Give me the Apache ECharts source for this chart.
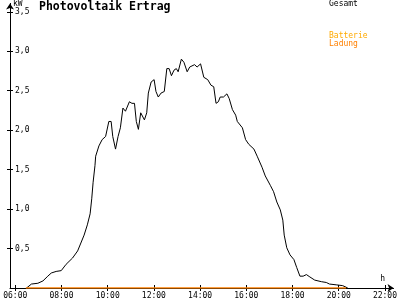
<!DOCTYPE html>
<html><head><meta charset="utf-8">
<script src="https://cdn.jsdelivr.net/npm/echarts@6/dist/echarts.min.js"></script>
<style>html,body{margin:0;padding:0;background:#fff}#c{width:400px;height:300px}</style>
</head><body><div id="c"></div>
<script>
const gesamtHours = [6.49,6.70,6.98,7.20,7.41,7.56,7.77,7.99,8.20,8.48,
  8.70,8.84,8.98,9.12,9.24,9.31,9.37,9.45,9.48,9.62,
  9.76,9.91,10.05,10.15,10.22,10.34,10.45,10.55,10.66,10.77,
  10.94,11.05,11.16,11.24,11.33,11.43,11.51,11.59,11.69,11.76,
  11.88,12.01,12.09,12.19,12.31,12.45,12.56,12.66,12.76,12.87,
  12.97,13.05,13.19,13.30,13.44,13.55,13.76,13.87,14.02,14.16,
  14.33,14.47,14.59,14.69,14.79,14.87,15.01,15.16,15.26,15.40,
  15.54,15.61,15.83,15.97,16.11,16.33,16.47,16.68,16.82,17.04,
  17.18,17.32,17.47,17.58,17.64,17.75,17.89,18.06,18.18,18.32,
  18.46,18.60,18.75,18.96,19.25,19.46,19.60,19.89,20.17,20.39];
const gesamtKW = [0,0.05,0.06,0.09,0.15,0.19,0.21,0.22,0.30,0.38,
  0.47,0.57,0.67,0.80,0.94,1.13,1.34,1.55,1.67,1.80,
  1.88,1.92,2.11,2.11,1.92,1.76,1.92,2.03,2.28,2.24,
  2.36,2.34,2.34,2.11,2.01,2.22,2.24,2.13,2.22,2.47,
  2.61,2.64,2.49,2.42,2.47,2.49,2.78,2.78,2.69,2.76,
  2.78,2.74,2.90,2.86,2.74,2.80,2.83,2.80,2.84,2.67,
  2.64,2.57,2.55,2.34,2.36,2.42,2.42,2.46,2.40,2.26,
  2.19,2.11,2.03,1.88,1.82,1.76,1.67,1.53,1.42,1.30,
  1.22,1.09,0.99,0.86,0.67,0.51,0.42,0.36,0.26,0.15,
  0.15,0.17,0.14,0.10,0.08,0.07,0.05,0.04,0.03,0];
const ladungHours = [6.46, 20.32];
const ladungKW = [0, 0];
const xTickValues = [6,8,10,12,14,16,18,20,22];
const xTickLabels = ['06:00','08:00','10:00','12:00','14:00','16:00','18:00','20:00','22:00'];
const yTickValues = [0.5,1,1.5,2,2.5,3,3.5];
const yTickLabels = ['0,5','1,0','1,5','2,0','2,5','3,0','3,5'];

const FONT = 'DejaVu Sans Mono';
const X_MIN = 5.773, X_MAX = 22.372, Y_MIN = 0, Y_MAX = 3.606;
const zip = (a, b) => a.map((v, i) => [v, b[i]]);
const xFmt = v => { const i = xTickValues.indexOf(v); return i < 0 ? '' : xTickLabels[i]; };
const yFmt = v => { const i = yTickValues.indexOf(v); return i < 0 ? '' : yTickLabels[i]; };

const chart = echarts.init(document.getElementById('c'), null, {renderer: 'canvas'});
chart.setOption({
  animation: false,
  backgroundColor: '#ffffff',
  title: [
    {text: 'Photovoltaik Ertrag', left: 39, top: 1, padding: 0,
     textStyle: {fontFamily: FONT, fontSize: 11.5, fontWeight: 'bold', color: '#000'}},
    {text: 'Gesamt', left: 329, top: 0, padding: 0,
     textStyle: {fontFamily: FONT, fontSize: 8, fontWeight: 'normal', color: '#000'}},
    {text: 'Batterie', left: 329, top: 32, padding: 0,
     textStyle: {fontFamily: FONT, fontSize: 8, fontWeight: 'normal', color: '#FFAA00'}},
    {text: 'Ladung', left: 329, top: 40, padding: 0,
     textStyle: {fontFamily: FONT, fontSize: 8, fontWeight: 'normal', color: '#FF8000'}}
  ],
  grid: {left: 10, right: 2, top: 2, bottom: 9.5, containLabel: false},
  xAxis: [
    {type: 'value', position: 'bottom', min: X_MIN, max: X_MAX,
     name: 'h', nameLocation: 'end', nameGap: -11,
     nameTextStyle: {fontFamily: FONT, fontSize: 8, color: '#000', align: 'center', verticalAlign: 'bottom', padding: [0,0,5,0]},
     axisLine: {show: true, lineStyle: {color: '#000', width: 1}, symbol: ['none', 'arrow'], symbolSize: [6, 6]},
     axisTick: {show: true, inside: false, length: 3, customValues: xTickValues, lineStyle: {color: '#000'}},
     axisLabel: {show: true, customValues: xTickValues, formatter: xFmt, margin: 4,
       fontFamily: FONT, fontSize: 8, color: '#000'},
     splitLine: {show: false}},
    {type: 'value', position: 'bottom', min: X_MIN, max: X_MAX,
     axisLine: {show: false},
     axisTick: {show: true, inside: true, length: 3, customValues: xTickValues, lineStyle: {color: '#000'}},
     axisLabel: {show: false}, splitLine: {show: false}}
  ],
  yAxis: [
    {type: 'value', position: 'left', min: Y_MIN, max: Y_MAX,
     name: 'kW', nameLocation: 'end', nameGap: -3,
     nameTextStyle: {fontFamily: FONT, fontSize: 8, color: '#000', align: 'left', verticalAlign: 'middle', padding: [0,0,0,3]},
     axisLine: {show: true, lineStyle: {color: '#000', width: 1}, symbol: ['none', 'arrow'], symbolSize: [6, 6]},
     axisTick: {show: true, inside: true, length: 3, customValues: yTickValues, lineStyle: {color: '#000'}},
     axisLabel: {show: true, inside: true, customValues: yTickValues, formatter: yFmt, margin: 5,
       fontFamily: FONT, fontSize: 8, color: '#000'},
     splitLine: {show: false}},
    {type: 'value', position: 'left', min: Y_MIN, max: Y_MAX,
     axisLine: {show: false},
     axisTick: {show: true, inside: false, length: 3, customValues: yTickValues, lineStyle: {color: '#000'}},
     axisLabel: {show: false}, splitLine: {show: false}}
  ],
  series: [
    {name: 'Gesamt', type: 'line', xAxisIndex: 0, yAxisIndex: 0,
     data: zip(gesamtHours, gesamtKW), showSymbol: false, symbol: 'none',
     lineStyle: {color: '#000', width: 1}, z: 3},
    {name: 'Batterie Ladung', type: 'line', xAxisIndex: 0, yAxisIndex: 0,
     data: zip(ladungHours, ladungKW), showSymbol: false, symbol: 'none',
     lineStyle: {color: '#FF8000', width: 1.5}, z: 4}
  ]
});
</script>
</body></html>
